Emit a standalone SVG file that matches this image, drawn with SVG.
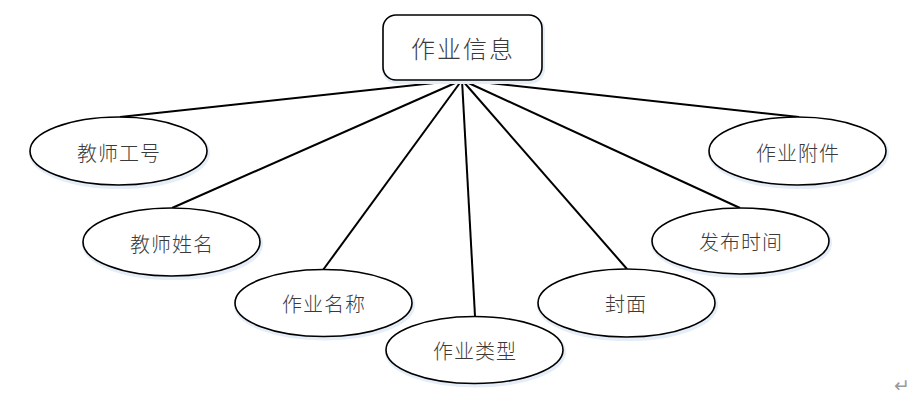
<svg xmlns="http://www.w3.org/2000/svg" width="909" height="402" viewBox="0 0 909 402">
<style>
.node{fill:#fff;stroke:#000;stroke-width:1.6}
.sh{fill:none;stroke:#e4edf8;stroke-width:4}
.lbl{font-family:"Noto Sans CJK SC","Liberation Sans",sans-serif;font-size:20px;font-weight:300;fill:#3a3a3a;text-anchor:middle;dominant-baseline:central;letter-spacing:1px}
.title{font-size:24px;letter-spacing:2px}
.conn line{stroke:#000;stroke-width:2}
</style>
<rect width="909" height="402" fill="#fff"/>
<g id="connectors" class="conn">
<line x1="462" y1="80" x2="120" y2="117"/>
<line x1="462" y1="80" x2="172" y2="208"/>
<line x1="462" y1="80" x2="323" y2="270"/>
<line x1="462" y1="80" x2="475" y2="316"/>
<line x1="462" y1="80" x2="627" y2="269"/>
<line x1="462" y1="80" x2="740" y2="208"/>
<line x1="462" y1="80" x2="799" y2="117"/>
</g>
<g id="n-info">
<rect class="sh" x="384" y="17" width="159" height="65" rx="13"/>
<rect class="node" x="383" y="15" width="159" height="65" rx="13"/>
<text class="lbl title" x="463" y="47">作业信息</text>
</g>
<g id="n-gonghao">
<ellipse class="sh" cx="119.5" cy="153" rx="88.5" ry="34"/>
<ellipse class="node" cx="118.5" cy="151" rx="88.5" ry="34"/>
<text class="lbl" x="119" y="152">教师工号</text>
</g>
<g id="n-xingming">
<ellipse class="sh" cx="172.5" cy="244" rx="88.5" ry="34"/>
<ellipse class="node" cx="171.5" cy="242" rx="88.5" ry="34"/>
<text class="lbl" x="172" y="243">教师姓名</text>
</g>
<g id="n-mingcheng">
<ellipse class="sh" cx="324.5" cy="305" rx="88.5" ry="33.5"/>
<ellipse class="node" cx="323.5" cy="303" rx="88.5" ry="33.5"/>
<text class="lbl" x="324" y="303">作业名称</text>
</g>
<g id="n-leixing">
<ellipse class="sh" cx="475.5" cy="352" rx="88.5" ry="33.5"/>
<ellipse class="node" cx="474.5" cy="350" rx="88.5" ry="33.5"/>
<text class="lbl" x="475" y="350">作业类型</text>
</g>
<g id="n-fengmian">
<ellipse class="sh" cx="627.5" cy="305" rx="88.5" ry="34"/>
<ellipse class="node" cx="626.5" cy="303" rx="88.5" ry="34"/>
<text class="lbl" x="626" y="303">封面</text>
</g>
<g id="n-shijian">
<ellipse class="sh" cx="741.5" cy="243" rx="88.5" ry="33"/>
<ellipse class="node" cx="740.5" cy="241" rx="88.5" ry="33"/>
<text class="lbl" x="741" y="241">发布时间</text>
</g>
<g id="n-fujian">
<ellipse class="sh" cx="798.5" cy="153" rx="88.5" ry="34"/>
<ellipse class="node" cx="797.5" cy="151" rx="88.5" ry="34"/>
<text class="lbl" x="798" y="152">作业附件</text>
</g>
<text x="902" y="385" font-family="DejaVu Sans,sans-serif" font-size="19" fill="#999" text-anchor="middle" dominant-baseline="central">↵</text>
</svg>
